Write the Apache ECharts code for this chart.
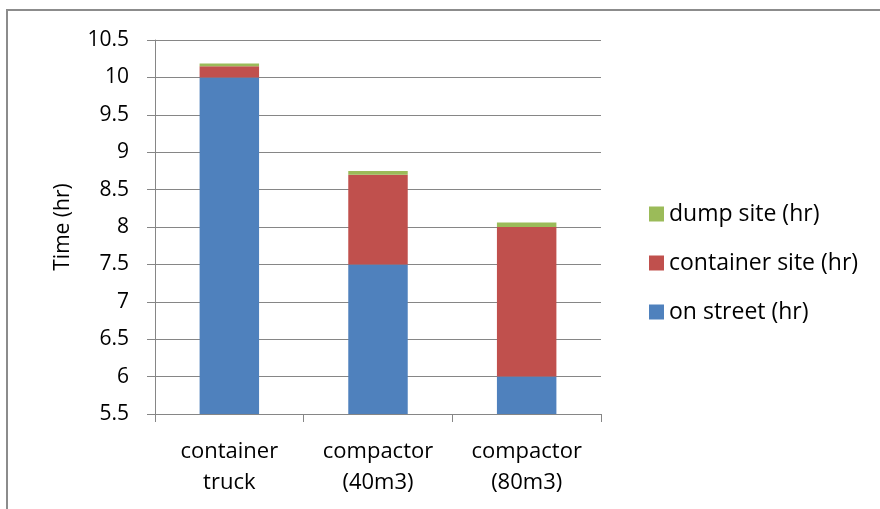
<!DOCTYPE html>
<html>
<head>
<meta charset="utf-8">
<script src="https://cdn.jsdelivr.net/npm/echarts@6/dist/echarts.min.js"></script>
<style>
  html, body { margin: 0; padding: 0; background: #fff; }
  #chart { width: 880px; height: 509px; }
</style>
</head>
<body>
<div id="chart"></div>
<script>
// Collection time per vehicle type, split by where the time is spent
const categories = ['container\ntruck', 'compactor\n(40m3)', 'compactor\n(80m3)'];
const onStreet = [10.0, 7.5, 6.0];
const containerSite = [0.15, 1.2, 2.0];
const dumpSite = [0.035, 0.05, 0.06];
const yTicks = { min: 5.5, max: 10.5, step: 0.5 };

const FONT = '"Open Sans", "Noto Sans", sans-serif';

const chart = echarts.init(document.getElementById('chart'), null, { renderer: 'canvas' });

chart.setOption({
  animation: false,
  backgroundColor: '#fff',
  graphic: [{
    type: 'rect',
    shape: { x: 7, y: 10, width: 1000, height: 700 },
    style: { fill: 'none', stroke: '#8c8c8c', lineWidth: 2 },
    silent: true
  }],
  grid: { left: 155, top: 40, right: 279, bottom: 95, containLabel: false },
  legend: {
    orient: 'vertical',
    left: 644,
    top: 197,
    itemWidth: 15,
    itemHeight: 15,
    itemGap: 25,
    icon: 'rect',
    data: ['dump site (hr)', 'container site (hr)', 'on street (hr)'],
    textStyle: { fontFamily: FONT, fontSize: 23, lineHeight: 24, color: '#000' }
  },
  xAxis: {
    type: 'category',
    data: categories,
    axisLine: { lineStyle: { color: '#868686', width: 1 } },
    axisTick: { show: true, length: 8, lineStyle: { color: '#868686' } },
    axisLabel: {
      fontFamily: FONT, fontSize: 22, color: '#000',
      lineHeight: 31, margin: 22
    }
  },
  yAxis: {
    type: 'value',
    min: yTicks.min,
    max: yTicks.max,
    interval: yTicks.step,
    name: 'Time (hr)',
    nameLocation: 'middle',
    nameGap: 81,
    nameTextStyle: { fontFamily: FONT, fontSize: 21, color: '#000' },
    axisLine: { show: true, lineStyle: { color: '#868686' } },
    axisTick: { show: true, length: 8, lineStyle: { color: '#868686' } },
    splitLine: { lineStyle: { color: '#868686', width: 1 } },
    axisLabel: {
      fontFamily: FONT, fontSize: 21, color: '#000', margin: 26,
      formatter: v => String(Math.round(v * 10) / 10)
    }
  },
  series: [
    {
      name: 'on street (hr)', type: 'bar', stack: 'total', data: onStreet,
      barWidth: '40%', itemStyle: { color: '#4f81bd' }
    },
    {
      name: 'container site (hr)', type: 'bar', stack: 'total', data: containerSite,
      itemStyle: { color: '#c0504d' }
    },
    {
      name: 'dump site (hr)', type: 'bar', stack: 'total', data: dumpSite,
      itemStyle: { color: '#9bbb59' }
    }
  ]
});
</script>
</body>
</html>
